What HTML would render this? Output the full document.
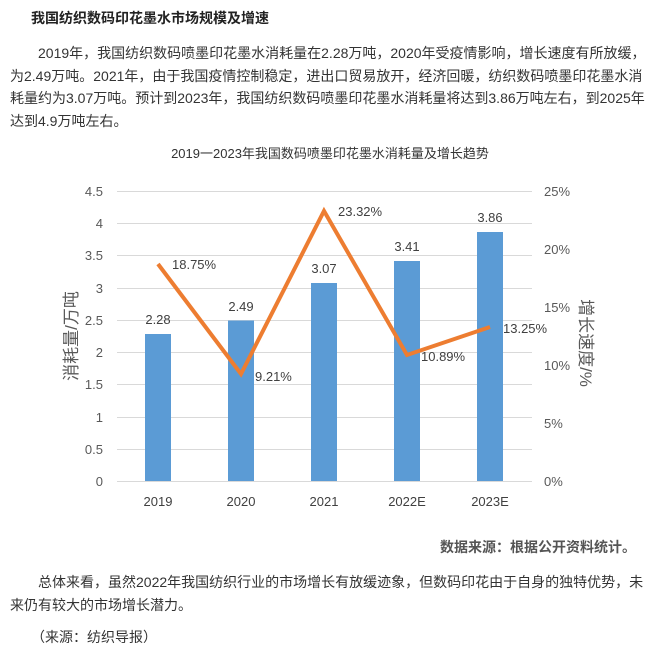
<!DOCTYPE html>
<html><head><meta charset="utf-8"><style>
body{margin:0;width:660px;height:656px;background:#fff;position:relative;overflow:hidden;font-family:"Liberation Sans","Noto Sans CJK SC",sans-serif;color:#333}
.t{position:absolute;white-space:nowrap}
p{margin:0}
</style></head><body>
<div class="t" style="left:31px;top:8px;font-size:14px;font-weight:bold;color:#222">我国纺织数码印花墨水市场规模及增速</div>
<div class="t" style="left:10px;top:42px;width:645px;white-space:normal;font-size:14px;line-height:22.5px;color:#333">
<p style="text-indent:28px">2019年，我国纺织数码喷墨印花墨水消耗量在2.28万吨，2020年受疫情影响，增长速度有所放缓，为2.49万吨。2021年，由于我国疫情控制稳定，进出口贸易放开，经济回暖，纺织数码喷墨印花墨水消耗量约为3.07万吨。预计到2023年，我国纺织数码喷墨印花墨水消耗量将达到3.86万吨左右，到2025年达到4.9万吨左右。</p></div>
<svg width="660" height="656" style="position:absolute;left:0;top:0" font-family="Liberation Sans,Noto Sans CJK SC,sans-serif">
<text x="330" y="158" font-size="13" text-anchor="middle" fill="#333">2019一2023年我国数码喷墨印花墨水消耗量及增长趋势</text>
<g stroke="#d9d9d9" stroke-width="1">
<line x1="117" x2="532" y1="481.5" y2="481.5"/><line x1="117" x2="532" y1="449.5" y2="449.5"/><line x1="117" x2="532" y1="417.5" y2="417.5"/><line x1="117" x2="532" y1="384.5" y2="384.5"/><line x1="117" x2="532" y1="352.5" y2="352.5"/><line x1="117" x2="532" y1="320.5" y2="320.5"/><line x1="117" x2="532" y1="288.5" y2="288.5"/><line x1="117" x2="532" y1="255.5" y2="255.5"/><line x1="117" x2="532" y1="223.5" y2="223.5"/><line x1="117" x2="532" y1="191.5" y2="191.5"/>
</g>
<g font-size="13" fill="#595959" text-anchor="end">
<text x="103" y="486">0</text><text x="103" y="454">0.5</text><text x="103" y="422">1</text><text x="103" y="389">1.5</text><text x="103" y="357">2</text><text x="103" y="325">2.5</text><text x="103" y="293">3</text><text x="103" y="260">3.5</text><text x="103" y="228">4</text><text x="103" y="196">4.5</text>
</g>
<g font-size="13" fill="#595959">
<text x="544" y="486">0%</text><text x="544" y="428">5%</text><text x="544" y="370">10%</text><text x="544" y="312">15%</text><text x="544" y="254">20%</text><text x="544" y="196">25%</text>
</g>
<g fill="#5b9bd5">
<rect x="145" y="334" width="26" height="147"/><rect x="228" y="320.5" width="26" height="160.5"/><rect x="311" y="283" width="26" height="198"/><rect x="394" y="261" width="26" height="220"/><rect x="477" y="232" width="26" height="249"/>
</g>
<g font-size="13" fill="#404040" text-anchor="middle">
<text x="158" y="506">2019</text><text x="241" y="506">2020</text><text x="324" y="506">2021</text><text x="407" y="506">2022E</text><text x="490" y="506">2023E</text>
<text x="158" y="324">2.28</text><text x="241" y="311">2.49</text><text x="324" y="273">3.07</text><text x="407" y="251">3.41</text><text x="490" y="222">3.86</text>
</g>
<polyline points="158,264 241,374 324,211 407,355 490,327" fill="none" stroke="#ed7d31" stroke-width="4" stroke-linejoin="miter"/>
<g font-size="13" fill="#404040">
<text x="172" y="269">18.75%</text><text x="255" y="381">9.21%</text><text x="338" y="216">23.32%</text><text x="421" y="361">10.89%</text><text x="503" y="333">13.25%</text>
</g>
<text transform="translate(77,336) rotate(-90)" font-size="17" fill="#595959" text-anchor="middle">消耗量/万吨</text>
<text transform="translate(580,343) rotate(90)" font-size="17" fill="#595959" text-anchor="middle">增长速度/%</text>
</svg>
<div class="t" style="left:440px;top:537px;font-size:14px;font-weight:bold;color:#555">数据来源：根据公开资料统计。</div>
<div class="t" style="left:10px;top:571px;width:645px;white-space:normal;font-size:14px;line-height:22.5px">
<p style="text-indent:28px">总体来看，虽然2022年我国纺织行业的市场增长有放缓迹象，但数码印花由于自身的独特优势，未来仍有较大的市场增长潜力。</p></div>
<div class="t" style="left:31px;top:627px;font-size:14px">（来源：纺织导报）</div>
</body></html>
